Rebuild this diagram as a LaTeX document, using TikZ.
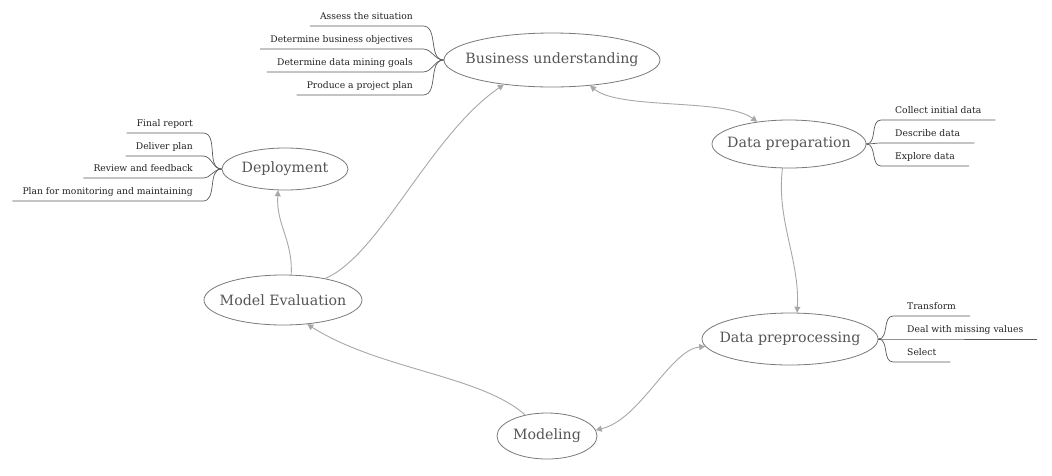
\documentclass[tikz,border=0pt]{standalone}
\usepackage{fontspec}
\setmainfont{DejaVu Serif}
\usetikzlibrary{shapes.geometric,arrows.meta}
\definecolor{topicline}{HTML}{7A7A7A}
\definecolor{topictext}{HTML}{555555}
\definecolor{connc}{HTML}{A8A8A8}
\definecolor{sublinec}{HTML}{5A5A5A}
\definecolor{subtext}{HTML}{222222}
\begin{document}
\begin{tikzpicture}[x=1pt,y=-1pt,
  topic/.style={ellipse, draw=topicline, line width=0.8pt, inner sep=0pt},
  topiclabel/.style={inner sep=0pt, text=topictext, font=\fontsize{14.2}{16}\selectfont},
  subL/.style={anchor=south east, inner xsep=10pt, inner ysep=6pt, text depth=0pt, text=subtext, font=\fontsize{9.2}{11}\selectfont},
  subR/.style={anchor=south west, inner xsep=14pt, inner ysep=6pt, text depth=0pt, text=subtext, font=\fontsize{9.2}{11}\selectfont},
  subline/.style={draw=sublinec, line width=0.7pt},
  conn/.style={draw=connc, line width=0.9pt},
  tip/.tip={Triangle[length=6pt,width=6pt]}
]
\useasboundingbox (0,0) rectangle (1052,475);
\fill[white] (0,0) rectangle (1052,475);

% main topics
\node[topic, minimum width=216, minimum height=54, label={[topiclabel]center:Business understanding}] (BU) at (552,60) {};
\node[topic, minimum width=154, minimum height=48, label={[topiclabel]center:Data preparation}] (DP) at (789,144) {};
\node[topic, minimum width=126, minimum height=42, label={[topiclabel]center:Deployment}] (DE) at (285,169) {};
\node[topic, minimum width=176, minimum height=52, label={[topiclabel]center:Data preprocessing}] (DPP) at (790,339) {};
\node[topic, minimum width=158, minimum height=50, label={[topiclabel]center:Model Evaluation}] (ME) at (283,300) {};
\node[topic, minimum width=100, minimum height=46, label={[topiclabel]center:Modeling}] (MO) at (547,436) {};

% Business understanding subtopics
\node[subL] (b1) at (423,26) {Assess the situation};
\node[subL] (b2) at (423,49) {Determine business objectives};
\node[subL] (b3) at (423,72) {Determine data mining goals};
\node[subL] (b4) at (423,95) {Produce a project plan};
\foreach \n in {b1,b2,b3,b4}
  \draw[subline] (\n.south west) -- (\n.south east) to[out=0,in=180] (BU.west);

% Deployment subtopics
\node[subL] (d1) at (203,133) {Final report};
\node[subL] (d2) at (203,156) {Deliver plan};
\node[subL] (d3) at (203,178) {Review and feedback};
\node[subL] (d4) at (203,201) {Plan for monitoring and maintaining};
\foreach \n in {d1,d2,d3,d4}
  \draw[subline] (\n.south west) -- (\n.south east) to[out=0,in=180] (DE.west);

% Data preparation subtopics
\node[subR] (p1) at (881,120) {Collect initial data};
\node[subR] (p2) at (881,143) {Describe data};
\node[subR] (p3) at (881,166) {Explore data};
\foreach \n in {p1,p2,p3}
  \draw[subline] (\n.south east) -- (\n.south west) to[out=180,in=0] (DP.east);

% Data preprocessing subtopics
\node[subR] (q1) at (893,316) {Transform};
\node[subR] (q2) at (893,339) {Deal with missing values};
\node[subR] (q3) at (893,362) {Select};
\foreach \n in {q1,q2,q3}
  \draw[subline] (\n.south east) -- (\n.south west) to[out=180,in=0] (DPP.east);

% connectors
\draw[conn,{tip}-{tip}] (BU.-34) .. controls (620,110) and (725,98) .. (DP.145);
\draw[conn,-{tip}] (DP.-105) .. controls (776,220) and (800,260) .. (DPP.75);
\draw[conn,{tip}-{tip}] (MO.7) .. controls (640,420) and (670,350) .. (DPP.185);
\draw[conn,-{tip}] (MO.136) .. controls (480,375) and (380,370) .. (ME.-45);
\draw[conn,-{tip}] (ME.72) .. controls (293,240) and (276,225) .. (DE.-108);
\draw[conn,-{tip}] (ME.27) .. controls (380,255) and (430,135) .. (BU.-153);
\end{tikzpicture}
\end{document}
